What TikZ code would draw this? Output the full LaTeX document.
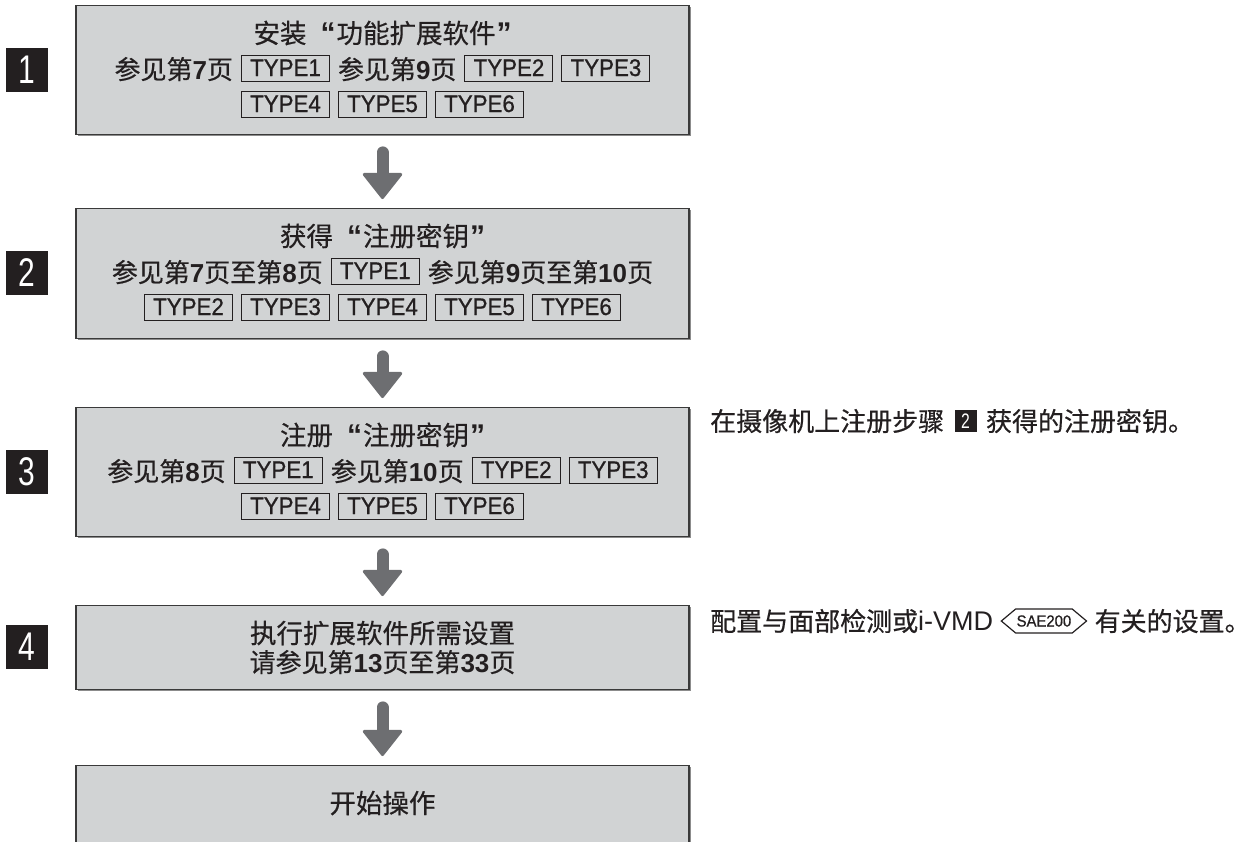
\documentclass[tikz,border=0pt]{standalone}
\usepackage{fontspec}
\setmainfont{Liberation Sans}
\newfontfamily\cjk[FakeBold=0.5]{Noto Sans CJK SC}
\newfontfamily\tyf[FakeStretch=0.93,FakeBold=0.8]{Liberation Sans}
\newfontfamily\numf[FakeStretch=0.75]{Liberation Sans}
\usetikzlibrary{arrows.meta,calc,positioning,shapes.symbols,shadows}
\definecolor{boxfill}{HTML}{D1D3D4}
\definecolor{boxline}{HTML}{3A3A3A}
\definecolor{boxshadow}{HTML}{8C8C8C}
\definecolor{txt}{HTML}{231F20}
\definecolor{sqblack}{HTML}{231F20}
\definecolor{arrowgray}{HTML}{6D6E71}
\setlength{\fboxsep}{2pt}
\setlength{\fboxrule}{1pt}
\newcommand\Ty[1]{\fbox{\rule[2pt]{0pt}{19pt}\makebox[83pt]{\raisebox{3pt}{\tyf\fontsize{24}{24}\selectfont #1}}}}
\newcommand\B[1]{{\rmfamily\bfseries #1}}
\newcommand\gap{\hspace{8pt}}
\newcommand\Lq{\hspace{14pt}{\rmfamily\bfseries\fontsize{30}{30}\selectfont “}\hspace{1pt}}
\newcommand\Rq{\hspace{1pt}{\rmfamily\bfseries\fontsize{30}{30}\selectfont ”}}
\begin{document}
\begin{tikzpicture}[x=1pt,y=-1pt,
  box/.style={draw=boxline, fill=boxfill, line width=1.4pt, minimum width=613pt, inner sep=0pt,
    drop shadow={shadow xshift=1.6pt, shadow yshift=-1.6pt, fill=boxshadow, opacity=1}},
  stepsq/.style={fill=sqblack, text=white, minimum width=42pt, minimum height=44pt, inner sep=0pt, font=\numf\fontsize{40}{40}\selectfont},
  ttl/.style={font=\cjk\fontsize{26.5}{30}\selectfont, text=txt, inner sep=0pt, text height=23.3pt, text depth=3.2pt},
  body/.style={font=\cjk\fontsize{26}{30}\selectfont, text=txt, inner sep=0pt, text height=23pt, text depth=3pt},
  side/.style={font=\cjk\fontsize{26}{30}\selectfont, text=txt, inner sep=0pt, text height=23pt, text depth=3.1pt},
  sqtwo/.style={fill=sqblack, text=white, minimum width=22pt, minimum height=22pt, inner sep=0pt, font=\numf\fontsize{21}{21}\selectfont},
  sae/.style={signal, signal to=west and east, signal pointer angle=80, draw=txt, line width=1.2pt, text=txt, font=\tyf\fontsize{16}{16}\selectfont, inner xsep=1pt, inner ysep=3pt, minimum height=24pt},
  bigarrow/.style={draw=arrowgray, line width=12pt, line cap=round, -{Triangle[width=42pt,length=27pt,round,line width=3pt]}, shorten <=17pt, shorten >=9pt}
]
\useasboundingbox (0,0) rectangle (1257,841);
\clip (0,0) rectangle (1257,841);

% boxes
\node[box, minimum height=129pt, anchor=north] (b1) at (382.5,5) {};
\node[box, minimum height=130pt, anchor=north] (b2) at (382.5,208) {};
\node[box, minimum height=129pt, anchor=north] (b3) at (382.5,407) {};
\node[box, minimum height=84pt, anchor=north] (b4) at (382.5,605) {};
\node[box, minimum height=120pt, anchor=north] (b5) at (382.5,765) {};

% step squares
\node[stepsq] (n1) at (27,69.5) {1};
\node[stepsq] (n2) at (27,273) {2};
\node[stepsq] (n3) at (27,471.5) {3};
\node[stepsq] (n4) at (27,647) {4};

% box 1
\node[ttl] (t1) at ($(b1.north)+(0,28)$) {安装\Lq{}功能扩展软件\Rq};
\node[body] (t1b) at ($(b1.north)+(0,64)$) {参见第\B{7}页\gap{}\Ty{TYPE1}\gap{}参见第\B{9}页\gap{}\Ty{TYPE2}\gap{}\Ty{TYPE3}};
\node[body] (t1c) at ($(b1.north)+(0,100)$) {\Ty{TYPE4}\gap{}\Ty{TYPE5}\gap{}\Ty{TYPE6}};

% box 2
\node[ttl] (t2) at ($(b2.north)+(0,28)$) {获得\Lq{}注册密钥\Rq};
\node[body] (t2b) at ($(b2.north)+(0,64)$) {参见第\B{7}页至第\B{8}页\gap{}\Ty{TYPE1}\gap{}参见第\B{9}页至第\B{10}页};
\node[body] (t2c) at ($(b2.north)+(0,100)$) {\Ty{TYPE2}\gap{}\Ty{TYPE3}\gap{}\Ty{TYPE4}\gap{}\Ty{TYPE5}\gap{}\Ty{TYPE6}};

% box 3
\node[ttl] (t3) at ($(b3.north)+(0,28)$) {注册\Lq{}注册密钥\Rq};
\node[body] (t3b) at ($(b3.north)+(0,64)$) {参见第\B{8}页\gap{}\Ty{TYPE1}\gap{}参见第\B{10}页\gap{}\Ty{TYPE2}\gap{}\Ty{TYPE3}};
\node[body] (t3c) at ($(b3.north)+(0,100)$) {\Ty{TYPE4}\gap{}\Ty{TYPE5}\gap{}\Ty{TYPE6}};

% box 4
\node[ttl] (t4) at ($(b4.north)+(0,28)$) {执行扩展软件所需设置};
\node[body] (t4b) at ($(b4.north)+(0,57)$) {请参见第\B{13}页至第\B{33}页};

% box 5
\node[ttl] (t5) at ($(b5.north)+(0,38)$) {开始操作};

% arrows
\draw[bigarrow] (b1) -- (b2);
\draw[bigarrow] (b2) -- (b3);
\draw[bigarrow] (b3) -- (b4);
\draw[bigarrow] (b4) -- (b5);

% side notes
\node[side, anchor=west] (r3a) at (710,421) {在摄像机上注册步骤};
\node[sqtwo, right=10pt of r3a] (r3n) {2};
\node[side, right=9pt of r3n] (r3b) {获得的注册密钥。};

\node[side, anchor=west] (r4a) at (710,621) {配置与面部检测或{\rmfamily\fontsize{27}{27}\selectfont i-VMD}};
\node[sae, right=7pt of r4a] (s4) {SAE200};
\node[side, right=7pt of s4] (r4b) {有关的设置。};
\end{tikzpicture}
\end{document}
